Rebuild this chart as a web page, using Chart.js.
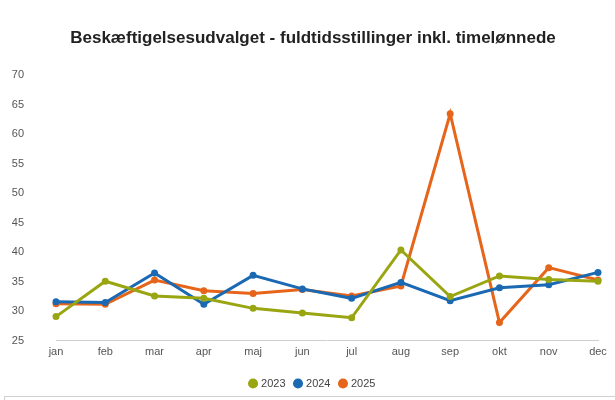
<!DOCTYPE html>
<html>
<head>
<meta charset="utf-8">
<script src="https://cdn.jsdelivr.net/npm/chart.js@4"></script>
<style>
  html, body { margin: 0; padding: 0; background: #fff; }
  #wrap { position: relative; width: 615px; height: 400px; }
  #frame { position: absolute; left: 4px; right: 0; top: 396px; height: 4px; border-top: 1px solid #d0d0d0; border-left: 1px solid #d0d0d0; }
</style>
</head>
<body>
<div id="wrap">
  <canvas id="chart" width="615" height="400"></canvas>
  <div id="frame"></div>
</div>
<script>
'use strict';

const months = ['jan', 'feb', 'mar', 'apr', 'maj', 'jun', 'jul', 'aug', 'sep', 'okt', 'nov', 'dec'];

const values2023 = [29.1, 35.1, 32.6, 32.2, 30.5, 29.7, 28.9, 40.4, 32.5, 36.0, 35.4, 35.1];
const values2024 = [31.6, 31.5, 36.5, 31.2, 36.1, 33.8, 32.2, 34.9, 31.8, 34.0, 34.5, 36.6];
const values2025 = [31.3, 31.2, 35.3, 33.5, 33.0, 33.7, 32.6, 34.3, 63.5, 28.1, 37.4, 35.3];

const yMin = 25;
const yMax = 70;

// title and legend sit slightly right of the chart box centre in the original
const headShift = 14;

function series(label, values, color) {
    return {
        label,
        data: values,
        borderColor: color,
        backgroundColor: color,
        borderWidth: 3,
        pointRadius: 2,
        pointHoverRadius: 3,
        tension: 0
    };
}

const shiftHead = {
    id: 'shiftHead',
    afterLayout(chart) {
        [chart.titleBlock, chart.legend].forEach(function(box) {
            if (!box) return;
            box.left += headShift;
            box.right += headShift;
        });
    }
};

new Chart(document.getElementById('chart'), {
    type: 'line',
    data: {
        labels: months,
        datasets: [
            series('2023', values2023, '#9aa512'),
            series('2024', values2024, '#1a69b2'),
            series('2025', values2025, '#e6651a')
        ]
    },
    plugins: [shiftHead],
    options: {
        responsive: false,
        animation: false,
        layout: { padding: { left: 0, right: 17, top: 0, bottom: 1 } },
        plugins: {
            title: {
                display: true,
                text: 'Beskæftigelsesudvalget - fuldtidsstillinger inkl. timelønnede',
                color: '#222',
                font: { family: 'Liberation Sans', size: 17, weight: 'bold' },
                padding: { top: 28, bottom: 27 }
            },
            legend: {
                position: 'bottom',
                labels: {
                    usePointStyle: true,
                    pointStyle: 'circle',
                    boxWidth: 5,
                    boxHeight: 5,
                    padding: 10,
                    color: '#444',
                    font: { family: 'Liberation Sans', size: 11 }
                }
            },
            tooltip: { enabled: false }
        },
        scales: {
            x: {
                offset: false,
                grid: { display: false, drawTicks: false },
                border: { color: '#cfcfcf' },
                ticks: {
                    color: '#555',
                    font: { family: 'Liberation Sans', size: 11 },
                    padding: 5
                },
                afterFit(scale) {
                    scale.height += 4;
                }
            },
            y: {
                min: yMin,
                max: yMax,
                grid: { display: false, drawTicks: false },
                border: { display: false },
                ticks: {
                    stepSize: 5,
                    color: '#555',
                    font: { family: 'Liberation Sans', size: 11 },
                    padding: 32
                },
                afterFit(scale) {
                    scale.width = 56;
                }
            }
        }
    }
});
</script>
</body>
</html>
